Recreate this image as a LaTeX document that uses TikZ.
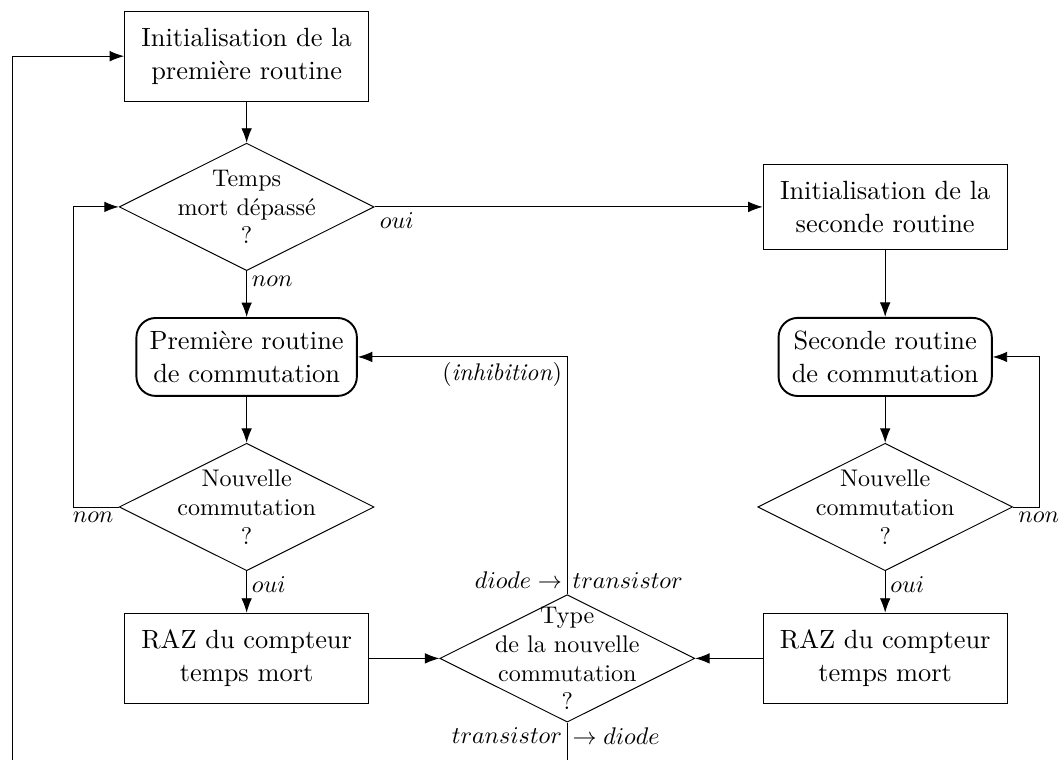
\documentclass[tikz,border=0pt]{standalone}
\usepackage{amsmath,amssymb}
\usepackage{tikz}
\usetikzlibrary{shapes.geometric, arrows.meta, positioning, calc}

\begin{document}
\begin{tikzpicture}[
    box/.style={draw, inner sep=7pt, font=\fontsize{10.95}{13.6}\selectfont, align=center},
    routine/.style={draw, thick, rounded corners=8pt, inner sep=5.5pt, font=\fontsize{10.95}{13.6}\selectfont, align=center},
    test/.style={draw, diamond, aspect=2, inner sep=-9pt, minimum width=3.72cm, minimum height=1.86cm, font=\fontsize{10}{12}\selectfont, align=center},
    lbl/.style={font=\fontsize{10}{12}\selectfont, inner sep=2pt},
    arrow/.style={-{Latex[length=6pt,width=4.4pt]}}
]
    \useasboundingbox (0,0) rectangle (15.53,-11.09);

    % premiere routine
    \node[box] (init1) at (3.6, -0.82) {Initialisation de la\\première routine};
    \node[test] (tmort) at (3.6, -3.02) {Temps\\mort dépassé\\?};
    \node[routine] (rout1) at (3.6, -5.21) {Première routine\\de commutation};
    \node[test] (nouv1) at (3.6, -7.40) {Nouvelle\\commutation\\?};
    \node[box] (raz1) at (3.6, -9.61) {RAZ du compteur\\temps mort};

    % seconde routine
    \node[box] (init2) at (12.92, -3.02) {Initialisation de la\\seconde routine};
    \node[routine] (rout2) at (12.92, -5.21) {Seconde routine\\de commutation};
    \node[test] (nouv2) at (12.92, -7.40) {Nouvelle\\commutation\\?};
    \node[box] (raz2) at (12.92, -9.61) {RAZ du compteur\\temps mort};

    % type de commutation
    \node[test] (type) at (8.28, -9.61) {Type\\de la nouvelle\\commutation\\?};

    \coordinate (bas) at (type.south |- 0,-11.09);
    \coordinate (basg) at (0.175, -11.09);

    % liaisons
    \draw[arrow] (init1) -- (tmort);
    \draw[arrow] (tmort) -- (rout1);
    \draw[arrow] (rout1) -- (nouv1);
    \draw[arrow] (nouv1) -- (raz1);
    \draw[arrow] (tmort) -- (init2);
    \draw[arrow] (init2) -- (rout2);
    \draw[arrow] (rout2) -- (nouv2);
    \draw[arrow] (nouv2) -- (raz2);
    \draw[arrow] (nouv1.west) -- ++(-0.66,0) |- (tmort.west);
    \draw[arrow] (nouv2.east) -- ++(0.39,0) |- (rout2.east);
    \draw[arrow] (raz1) -- (type);
    \draw[arrow] (raz2) -- (type);
    \draw[arrow] (type.north) |- (rout1.east);
    \draw (type.south) -- (bas);
    \draw[arrow] (basg) |- (init1.west);

    % etiquettes
    \node[lbl, anchor=north west] at (tmort.east) {$oui$};
    \node[lbl, anchor=north west] at (tmort.south) {$non$};
    \node[lbl, anchor=north east] at (nouv1.west) {$non$};
    \node[lbl, anchor=north west] at (nouv1.south) {$oui$};
    \node[lbl, anchor=north west] at (nouv2.east) {$non$};
    \node[lbl, anchor=north west] at (nouv2.south) {$oui$};
    \node[lbl, anchor=north east] at (type.north |- rout1.east) {(\textit{inhibition})};
    \node[lbl, anchor=south east] at (type.north) {$diode \rightarrow$};
    \node[lbl, anchor=south west] at (type.north) {$transistor$};
    \node[lbl, anchor=north east] at (type.south) {$transistor$};
    \node[lbl, anchor=north west] at (type.south) {$\rightarrow diode$};
\end{tikzpicture}
\end{document}
